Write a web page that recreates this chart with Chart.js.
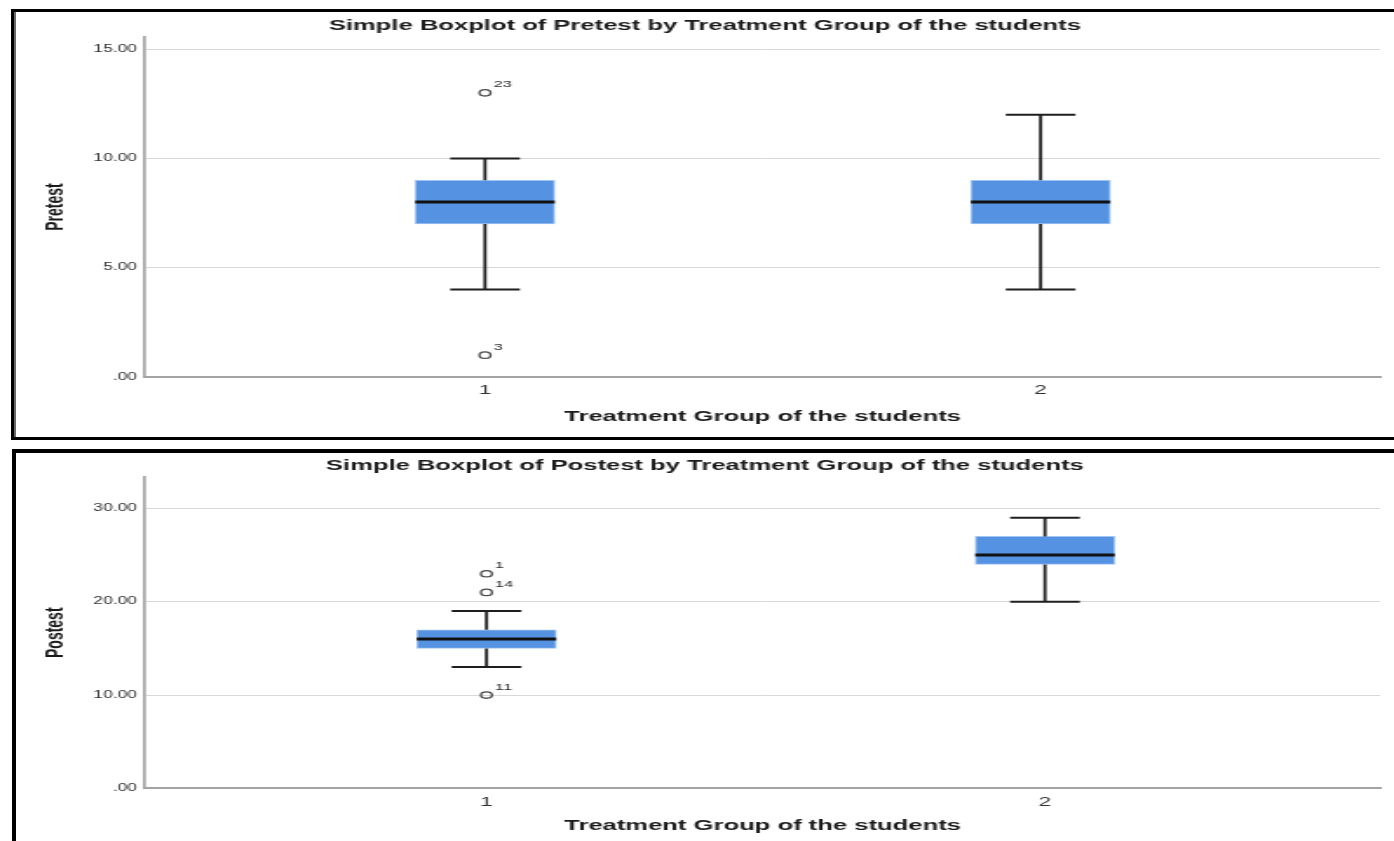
<!DOCTYPE html>
<html>
<head>
<meta charset="utf-8">
<script src="https://cdn.jsdelivr.net/npm/chart.js"></script>
<style>
  html, body { margin: 0; padding: 0; background: #fff; }
  #page { position: relative; width: 1394px; height: 841px; overflow: hidden; background: #fff; }
  canvas { position: absolute; left: 0; }
  .frame { position: absolute; box-sizing: border-box; pointer-events: none; }
  #f1 { left: 11px; top: 9px; width: 1400px; height: 431px;
        border-top: 3px solid #000; border-left: 3px solid #000; border-bottom: 3px solid #000;
        box-shadow: inset 2px 0 0 #6a6a6a; }
  #f2 { left: 12px; top: 449px; width: 1400px; height: 420px;
        border-top: 4px solid #000; border-left: 4px solid #000; }
</style>
</head>
<body>
<div id="page">
  <canvas id="c1" width="800" height="438" style="top:0px;width:1394px;height:438px;"></canvas>
  <canvas id="c2" width="800" height="391" style="top:450px;width:1394px;height:391px;"></canvas>
  <div class="frame" id="f1"></div>
  <div class="frame" id="f2"></div>
</div>
<script>
// ---------- data ----------
const groups = [1, 2];
const groupLabels = ['1', '2'];

const preLow  = [4, 4];
const preQ1   = [7, 7];
const preMed  = [8, 8];
const preQ3   = [9, 9];
const preHigh = [10, 12];
const preOutGroup  = [1, 1];
const preOutValue  = [13, 1];
const preOutLabel  = ['23', '3'];
const preTickValues = [0, 5, 10, 15];
const preTickLabels = ['.00', '5.00', '10.00', '15.00'];

const postLow  = [13, 20];
const postQ1   = [15, 24];
const postMed  = [16, 25];
const postQ3   = [17, 27];
const postHigh = [19, 29];
const postOutGroup = [1, 1, 1];
const postOutValue = [23, 21, 10];
const postOutLabel = ['1', '14', '11'];
const postTickValues = [0, 10, 20, 30];
const postTickLabels = ['.00', '10.00', '20.00', '30.00'];

// ---------- styling / layout ----------
const FONT = "'Liberation Sans', Arial, Helvetica, sans-serif";
Chart.defaults.font.family = FONT;
const BOX_COLOR = '#5593e2';
const BOX_EDGE = 'rgba(150,190,242,0.9)';
const LINE_COLOR = '#1e1e1e';
const AXIS_COLOR = '#a4a4a4';
const GRID_COLOR = '#d8d8d8';
const TEXT_COLOR = '#2b2b2b';

const boxPlugin = {
  id: 'boxWhiskers',
  afterDatasetsDraw(chart, args, o) {
    const ctx = chart.ctx;
    const xs = chart.scales.x, ys = chart.scales.y;
    const bars = chart.getDatasetMeta(0).data;
    ctx.save();
    o.groups.forEach((g, i) => {
      const x = xs.getPixelForValue(g);
      const w = bars[i].width;
      const cap = w / 4;
      const yLow = ys.getPixelForValue(o.low[i]);
      const yQ1 = ys.getPixelForValue(o.q1[i]);
      const yMed = ys.getPixelForValue(o.med[i]);
      const yQ3 = ys.getPixelForValue(o.q3[i]);
      const yHigh = ys.getPixelForValue(o.high[i]);
      ctx.strokeStyle = LINE_COLOR;
      ctx.lineCap = 'butt';
      ctx.lineWidth = 1.8;
      ctx.beginPath();
      ctx.moveTo(x, yHigh); ctx.lineTo(x, yQ3);
      ctx.moveTo(x, yQ1); ctx.lineTo(x, yLow);
      ctx.stroke();
      ctx.lineWidth = 2;
      ctx.beginPath();
      ctx.moveTo(x - cap, yHigh); ctx.lineTo(x + cap, yHigh);
      ctx.moveTo(x - cap, yLow); ctx.lineTo(x + cap, yLow);
      ctx.stroke();
      ctx.lineWidth = 3;
      ctx.strokeStyle = '#111';
      ctx.beginPath();
      ctx.moveTo(x - w / 2, yMed); ctx.lineTo(x + w / 2, yMed);
      ctx.stroke();
    });
    ctx.fillStyle = TEXT_COLOR;
    ctx.font = "9.5px " + FONT;
    ctx.textAlign = 'left';
    ctx.textBaseline = 'middle';
    o.outGroup.forEach((g, i) => {
      const x = xs.getPixelForValue(g);
      const y = ys.getPixelForValue(o.outValue[i]);
      ctx.fillText(o.outLabel[i], x + 4.9, y - 8);
    });
    ctx.restore();
  }
};

function makeChart(id, cfg) {
  const canvas = document.getElementById(id);
  const chart = new Chart(canvas, {
    type: 'bar',
    data: {
      datasets: [
        {
          type: 'bar',
          data: groups.map((g, i) => ({ x: g, y: [cfg.q1[i], cfg.q3[i]] })),
          backgroundColor: BOX_COLOR,
          borderColor: BOX_EDGE,
          borderWidth: 1,
          borderSkipped: false,
          barThickness: 80,
          order: 2
        },
        {
          type: 'scatter',
          data: cfg.outGroup.map((g, i) => ({ x: g, y: cfg.outValue[i] })),
          pointRadius: 3.2,
          pointBorderWidth: 1.3,
          pointBorderColor: '#4a4a4a',
          pointBackgroundColor: 'rgba(0,0,0,0)',
          showLine: false,
          order: 1
        }
      ]
    },
    options: {
      responsive: false,
      devicePixelRatio: 1,
      animation: false,
      events: [],
      layout: { padding: { left: 17, right: 8, top: 0, bottom: 0 } },
      plugins: {
        legend: { display: false },
        tooltip: { enabled: false },
        title: {
          display: true,
          text: cfg.title,
          color: '#1a1a1a',
          font: { family: FONT, size: 14.7, weight: 'bold', lineHeight: 1.2 },
          padding: { top: cfg.titleTop, bottom: cfg.titleBottom }
        },
        boxWhiskers: {
          groups: groups, low: cfg.low, q1: cfg.q1, med: cfg.med, q3: cfg.q3, high: cfg.high,
          outGroup: cfg.outGroup, outValue: cfg.outValue, outLabel: cfg.outLabel
        }
      },
      scales: {
        x: {
          type: 'linear',
          min: cfg.xMin, max: cfg.xMax,
          offset: false,
          grid: { display: false, drawTicks: false, offset: false },
          border: { display: true, color: AXIS_COLOR, width: 2 },
          afterBuildTicks: s => { s.ticks = groups.map(v => ({ value: v })); },
          ticks: {
            padding: cfg.xTickPad,
            color: '#333',
            font: { family: FONT, size: 13, lineHeight: 1.2 },
            callback: (v) => groupLabels[groups.indexOf(v)]
          },
          afterFit: s => { s.height = cfg.xHeight; },
          title: {
            display: true,
            text: 'Treatment Group of the students',
            color: '#1a1a1a',
            font: { family: FONT, size: 14.7, weight: 'bold', lineHeight: 1.2 },
            padding: { top: 0, bottom: cfg.xTitleBottom }
          }
        },
        y: {
          type: 'linear',
          min: 0, max: cfg.yMax,
          grid: { color: GRID_COLOR, lineWidth: 1, drawTicks: false },
          border: { display: true, color: AXIS_COLOR, width: 1.7 },
          afterBuildTicks: s => { s.ticks = cfg.tickValues.map(v => ({ value: v })); },
          ticks: {
            padding: 4.6,
            color: '#333',
            font: { family: FONT, size: 10, lineHeight: 1.2 },
            callback: (v) => cfg.tickLabels[cfg.tickValues.indexOf(v)]
          },
          afterFit: s => { s.width = 66.2; },
          title: {
            display: true,
            text: cfg.yTitle,
            color: '#1a1a1a',
            font: { family: FONT, size: 14, weight: 'bold', lineHeight: 1.2 },
            padding: { top: 6.9, bottom: 0 }
          }
        }
      }
    },
    plugins: [boxPlugin]
  });
  canvas.style.width = '1394px';
  canvas.style.height = canvas.height + 'px';
  return chart;
}

makeChart('c1', {
  title: 'Simple Boxplot of Pretest by Treatment Group of the students',
  yTitle: 'Pretest',
  low: preLow, q1: preQ1, med: preMed, q3: preQ3, high: preHigh,
  outGroup: preOutGroup, outValue: preOutValue, outLabel: preOutLabel,
  tickValues: preTickValues, tickLabels: preTickLabels,
  yMax: 15.55, xMin: 0.388, xMax: 2.611,
  titleTop: 17.3, titleBottom: 2.1,
  xHeight: 61, xTickPad: 5.2, xTitleBottom: 12.2
});

makeChart('c2', {
  title: 'Simple Boxplot of Postest by Treatment Group of the students',
  yTitle: 'Postest',
  low: postLow, q1: postQ1, med: postMed, q3: postQ3, high: postHigh,
  outGroup: postOutGroup, outValue: postOutValue, outLabel: postOutLabel,
  tickValues: postTickValues, tickLabels: postTickLabels,
  yMax: 33.36, xMin: 0.3885, xMax: 2.6,
  titleTop: 7.3, titleBottom: 2.1,
  xHeight: 52.6, xTickPad: 5.8, xTitleBottom: 6.2
});
</script>
</body>
</html>
